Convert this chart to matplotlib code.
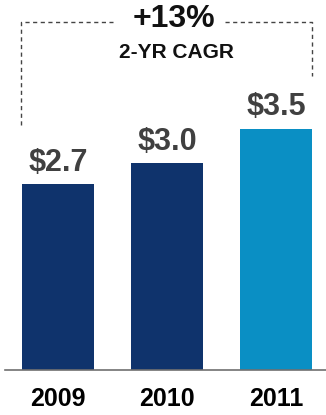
import matplotlib.pyplot as plt

years = ['2009', '2010', '2011']
values = [2.7, 3.0, 3.5]
value_labels = ['$2.7', '$3.0', '$3.5']
colors = ['#0f336c', '#0f336c', '#0a8fc4']
cagr_text = '+13%'
cagr_sub = '2-YR CAGR'

plt.rcParams['font.family'] = ['Liberation Sans', 'DejaVu Sans']
plt.rcParams['font.weight'] = 'bold'

fig = plt.figure(figsize=(3.26, 4.15), dpi=100)
ax = fig.add_axes([0, 0, 1, 1])
ax.set_xlim(-0.532, 2.458)
ax.set_ylim(-0.653, 5.370)
ax.axis('off')

x = list(range(len(years)))
ax.bar(x, values, width=0.66, color=colors, zorder=2)
ax.plot([-0.49, 2.46], [0, 0], color='#707070', lw=1.2, zorder=3)

for xi, v, lab in zip(x, values, value_labels):
    ax.text(xi, v + 0.31, lab, ha='center', va='center', fontsize=22,
            color='#404040', fontweight='bold')
for xi, y in zip(x, years):
    ax.text(xi, -0.42, y, ha='center', va='center', fontsize=18,
            color='black', fontweight='bold')

# CAGR bracket
dash = dict(color='#444444', lw=1.0, ls=(0, (3, 2.5)))
ax.plot([-0.34, -0.34, 0.50], [3.56, 5.05, 5.05], **dash)
ax.plot([1.53, 2.33, 2.33], [5.05, 5.05, 4.27], **dash)
ax.text(1.06, 5.09, cagr_text, ha='center', va='center', fontsize=23,
        fontweight='bold', color='#111111')
ax.text(1.09, 4.61, cagr_sub, ha='center', va='center', fontsize=15,
        fontweight='bold', color='#111111')

fig.savefig('out.png', dpi=100)
